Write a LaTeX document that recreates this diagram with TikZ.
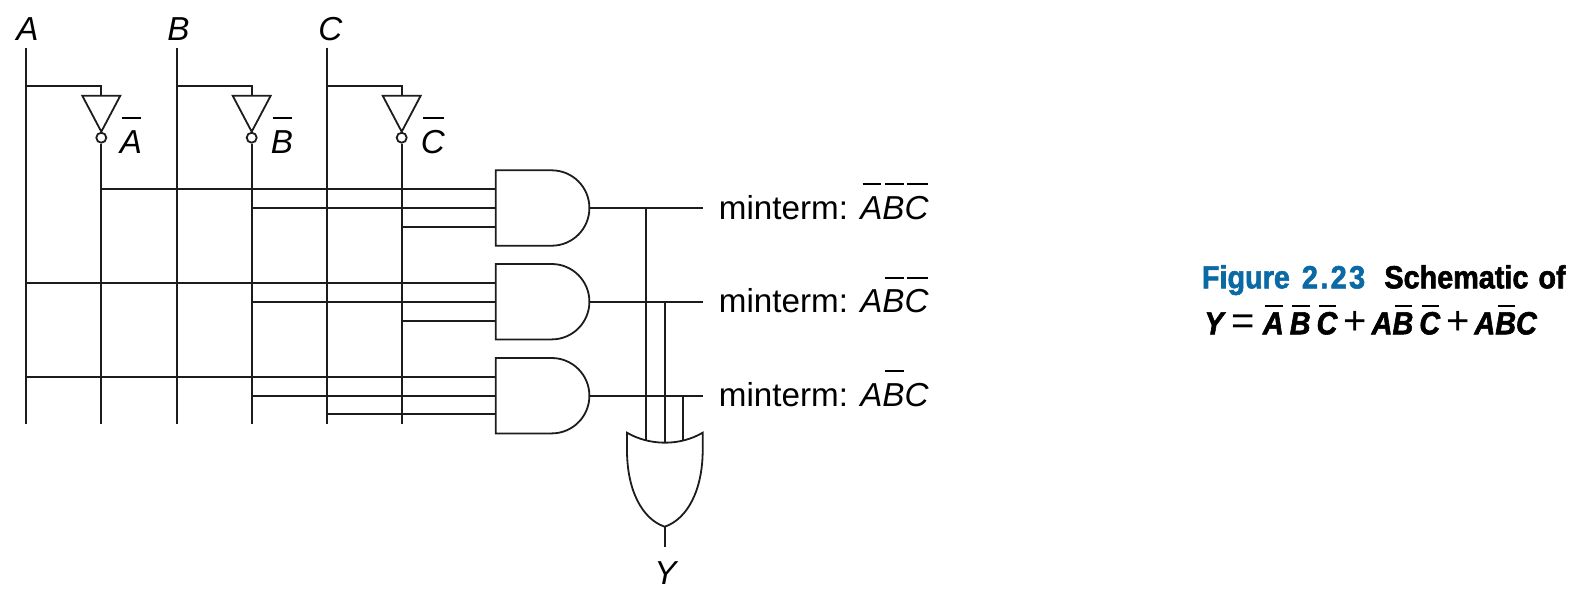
\documentclass[tikz,border=0pt]{standalone}
\usepackage{fontspec}
\usetikzlibrary{calc}
\setmainfont{Liberation Sans}
\newfontfamily\capfont[FakeStretch=0.9,FakeBold=1.8]{Liberation Sans Bold}
\newfontfamily\eqnfont[FakeStretch=0.9,FakeBold=1.8]{Liberation Sans Bold Italic}
\definecolor{wirecol}{HTML}{1C1C1C}
\definecolor{figblue}{HTML}{0B69A3}
\newlength{\ovlwd}
\newcommand{\ovl}[2][1.03em]{\settowidth{\ovlwd}{#2}\rlap{\hspace{.07em}\rule[#1]{\dimexpr\ovlwd-.1em\relax}{.055em}}#2}
\newcommand{\eqnop}[1]{{\fontspec{Liberation Sans}\fontsize{20}{20}\selectfont #1}}
\tikzset{
	wire/.style={draw=wirecol, line width=0.9pt},
	lbl/.style={anchor=base west, inner sep=0pt, font=\fontsize{16.6}{19}\selectfont},
	caplbl/.style={anchor=base west, inner sep=0pt, font=\capfont\fontsize{16}{19}\selectfont},
	eqnlbl/.style={anchor=base west, inner sep=0pt, font=\eqnfont\fontsize{16}{19}\selectfont}
}
\begin{document}
\begin{tikzpicture}[x=0.5pt, y=-0.5pt]
	\useasboundingbox (0,0) rectangle (1586,602);
	
	% Input rails
	\foreach \name/\x in {A/26.3, An/101.3, B/176.6, Bn/251.7, C/326.7, Cn/401.7} {
		\coordinate (top\name) at (\x,47.7);
		\coordinate (bot\name) at (\x,424.3);
	}
	\draw[wire] (topA) -- (botA);
	\draw[wire] (topB) -- (botB);
	\draw[wire] (topC) -- (botC);
	
	% Inverters
	\foreach \inp/\out in {A/An, B/Bn, C/Cn} {
		\coordinate (tap\inp) at ($(top\inp)+(0,38.3)$);
		\coordinate (in\out) at (top\out |- 0,95.7);
		\coordinate (tip\out) at (top\out |- 0,131.7);
		\node[circle, wire, inner sep=0pt, minimum size=5pt] (dot\out) at (top\out |- 0,137.7) {};
		\draw[wire] (tap\inp) -| (in\out);
		\draw[wire] ($(in\out)+(-19,0)$) -- ($(in\out)+(19,0)$) -- (tip\out) -- cycle;
		\draw[wire] (dot\out) -- (bot\out);
	}
	
	% AND gates
	\foreach \g/\ytop/\ymid in {1/170.3/208, 2/264/301.7, 3/358/395.7} {
		\coordinate (g\g) at (495.7,\ytop);
		\coordinate (out\g) at (590,\ymid);
		\coordinate (m\g) at (702.7,\ymid);
		\draw[wire] (g\g) -- ++(56,0) arc[start angle=-90, end angle=90, radius=37.7] -- ++(-56,0) -- cycle;
		\draw[wire] (out\g) -- (m\g);
	}
	
	% AND inputs
	\coordinate (p1) at (495.7,189.3);
	\coordinate (p2) at (495.7,208);
	\coordinate (p3) at (495.7,226.8);
	\coordinate (p4) at (495.7,283);
	\coordinate (p5) at (495.7,301.7);
	\coordinate (p6) at (495.7,320.7);
	\coordinate (p7) at (495.7,377);
	\coordinate (p8) at (495.7,395.7);
	\coordinate (p9) at (495.7,414.3);
	
	\draw[wire] (topAn |- p1) -- (p1);
	\draw[wire] (topBn |- p2) -- (p2);
	\draw[wire] (topCn |- p3) -- (p3);
	\draw[wire] (topA |- p4) -- (p4);
	\draw[wire] (topBn |- p5) -- (p5);
	\draw[wire] (topCn |- p6) -- (p6);
	\draw[wire] (topA |- p7) -- (p7);
	\draw[wire] (topBn |- p8) -- (p8);
	\draw[wire] (topC |- p9) -- (p9);
	
	% OR gate
	\coordinate (orl) at (627,432.7);
	\coordinate (orr) at (702.7,432.7);
	\coordinate (ortip) at (664.7,526.7);
	\coordinate (yend) at (664.7,546.7);
	\draw[wire] (orl) .. controls (650,446) and (680,446) .. (orr) -- (702.7,450)
		.. controls (702.7,490) and (687.4,519) .. (ortip)
		.. controls (642,519) and (627,490) .. (627,450) -- cycle;
	\draw[wire] (ortip) -- (yend);
	\coordinate (o1) at (646,440.7);
	\coordinate (o2) at (664.7,442.7);
	\coordinate (o3) at (683.3,441);
	\draw[wire] (o1 |- m1) -- (o1);
	\draw[wire] (o2 |- m2) -- (o2);
	\draw[wire] (o3 |- m3) -- (o3);
	
	% Labels
	\node[lbl] (lA) at (16,40) {\textit{A}};
	\node[lbl] (lB) at (167,40) {\textit{B}};
	\node[lbl] (lC) at (318,40) {\textit{C}};
	\node[lbl] (lAn) at (119.5,153.3) {\ovl{\textit{A}}};
	\node[lbl] (lBn) at (270.5,153.3) {\ovl{\textit{B}}};
	\node[lbl] (lCn) at (420.5,153.3) {\ovl{\textit{C}}};
	\node[lbl] (lY) at (654,584) {\textit{Y}};
	
	\node[lbl] (t1) at (718.5,219) {minterm: \ovl{\textit{A}}\ovl{\textit{B}}\ovl{\textit{C}}};
	\node[lbl] (t2) at (718.5,312.7) {minterm: \textit{A}\ovl{\textit{B}}\ovl{\textit{C}}};
	\node[lbl] (t3) at (718.5,406) {minterm: \textit{A}\ovl{\textit{B}}\textit{C}};
	
	% Caption
	\node[caplbl, text=figblue] (fig) at (1201.5,288.3) {Figure\hspace{2pt} 2\kern1.2pt.\kern1.2pt2\kern1.2pt3};
	\node[caplbl] (schem) at (1384,288.3) {Schematic\hspace{1pt} of};
	\node[eqnlbl] (eqn) at (1204,334.3) {Y\hspace{4pt}\eqnop{=}\hspace{4pt}\ovl[.86em]{A}\hspace{3pt}\ovl[.86em]{B}\hspace{3pt}\ovl[.86em]{C}\hspace{3pt}\eqnop{+}\hspace{2.5pt}A\ovl[.86em]{B}\hspace{3pt}\ovl[.86em]{C}\hspace{3pt}\eqnop{+}\hspace{2.5pt}A\ovl[.86em]{B}C};
\end{tikzpicture}
\end{document}
